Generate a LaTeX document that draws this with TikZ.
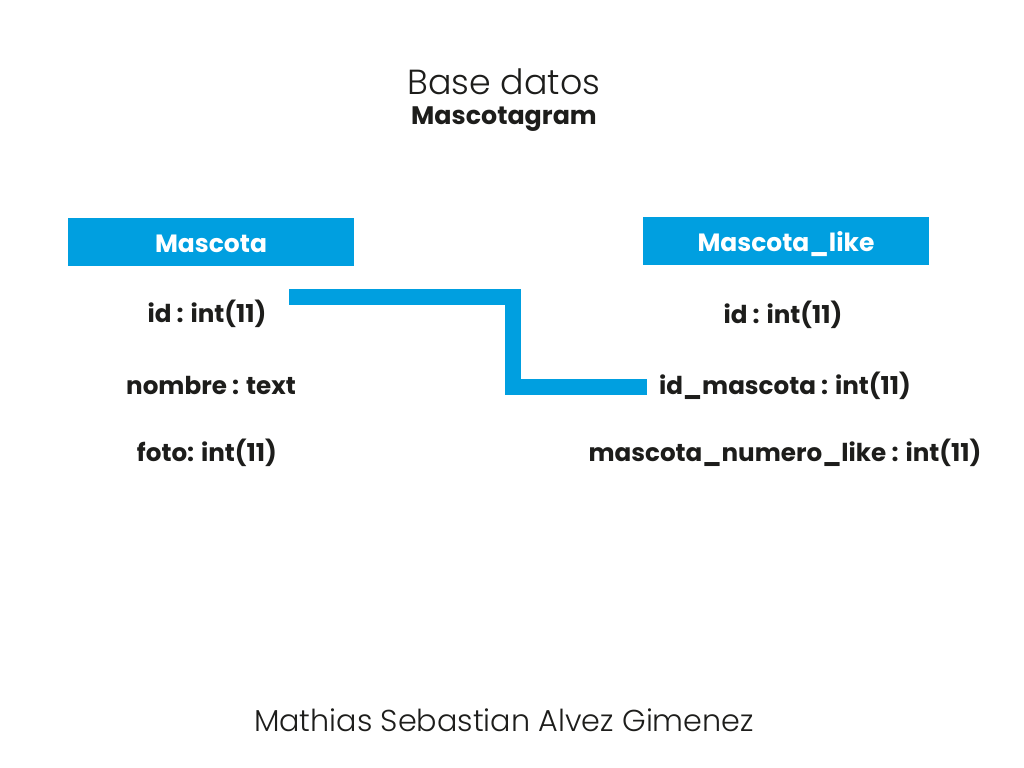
\documentclass[tikz,border=0pt]{standalone}
\usepackage{fontspec}
\setmainfont{Poppins}
\newfontfamily\lightfont{Poppins Light}
\definecolor{azul}{HTML}{009FE0}
\definecolor{tinta}{HTML}{1D1D1B}
\tikzset{
	tabla/.style={fill=azul,minimum width=2.86cm,minimum height=0.48cm,inner sep=0pt,text height=0.7em,text depth=0.1em,text=white,font=\bfseries\fontsize{7.1}{8}\selectfont},
	campo/.style={text=tinta,inner sep=0pt,text height=0.72em,text depth=0.1em,font=\bfseries\fontsize{7}{8}\selectfont},
	enlace/.style={draw=azul,line width=0.16cm,miter limit=10}
}
\begin{document}
\begin{tikzpicture}[x=0.01cm,y=-0.01cm]
			\useasboundingbox (0,0) rectangle (1024,768);

			\node (titulo) at (504,82)[text=tinta,font=\lightfont\fontsize{9.9}{11}\selectfont]{Base datos};
			\node (sub) at (504,114)[campo,font=\bfseries\fontsize{7.2}{8}\selectfont]{Mascotagram};

			\node (mascota) at (211,242)[tabla]{Mascota};
			\node (like) at (786,241)[tabla]{Mascota\_like};

			\node (m_id) at (207,312)[campo]{id : int(11)};
			\node (m_nombre) at (211,384)[campo]{nombre : text};
			\node (m_foto) at (207,451)[campo]{foto: int(11)};

			\node (l_id) at (783,313)[campo]{id : int(11)};
			\node (l_idm) at (785,384)[campo]{id\_mascota : int(11)};
			\node (l_num) at (785,451)[campo]{mascota\_numero\_like : int(11)};

			\coordinate (desde) at (289,297);
			\coordinate (hasta) at (647,387);
			\draw[enlace] (desde) -- ++(224,0) |- (hasta);

			\node (autor) at (504,720)[text=tinta,font=\lightfont\fontsize{8.6}{10}\selectfont]{Mathias Sebastian Alvez Gimenez};
		\end{tikzpicture}
\end{document}
